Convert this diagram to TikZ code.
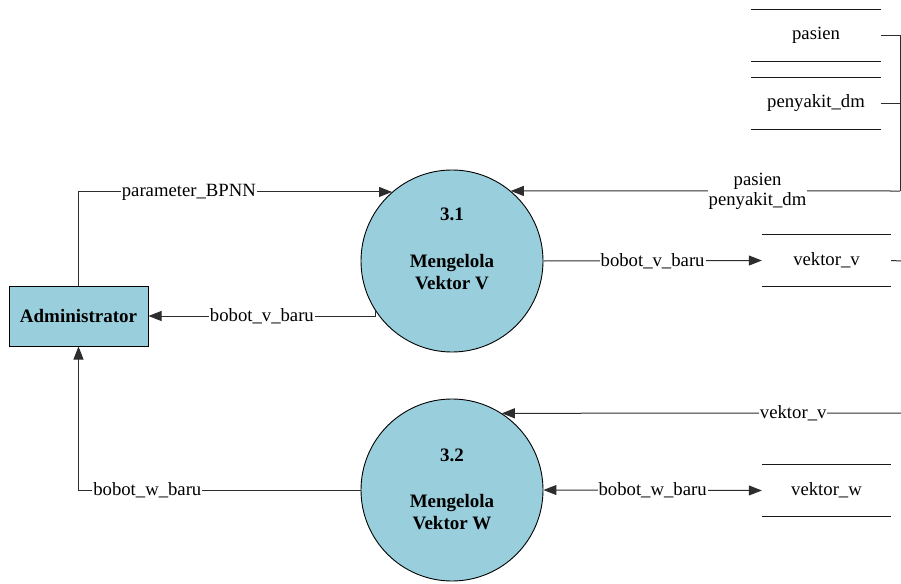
\documentclass[tikz,border=0pt]{standalone}
\usepackage{fontspec}
\IfFontExistsTF{LiberationSerif-Regular.ttf}
  {\setmainfont{LiberationSerif-Regular.ttf}[BoldFont=LiberationSerif-Bold.ttf]}
  {}
\usetikzlibrary{arrows.meta}
\definecolor{procblue}{RGB}{153,207,220}
\definecolor{flowgray}{RGB}{45,45,45}
\begin{document}
\begin{tikzpicture}[x=1pt,y=-1pt,
  flow/.style={draw=flowgray, line width=1pt},
  tip/.style={-{Triangle[length=13pt,width=10pt]}},
  bothtips/.style={{Triangle[length=13pt,width=10pt]}-{Triangle[length=13pt,width=10pt]}},
  lbl/.style={fill=white, inner sep=1pt, font=\rmfamily\fontsize{18.7}{20}\selectfont, align=center},
  proc/.style={circle, draw=black, line width=0.9pt, fill=procblue, minimum size=182pt, inner sep=0pt},
  ptext/.style={font=\rmfamily\bfseries\fontsize{19}{22}\selectfont, align=center},
  ent/.style={draw=black, fill=procblue, line width=1pt, minimum width=139pt,
    minimum height=60pt, inner sep=0pt, font=\rmfamily\bfseries\fontsize{19}{22}\selectfont},
  store/.style={minimum width=129pt, minimum height=51pt, inner sep=0pt,
    font=\rmfamily\fontsize{18.7}{20}\selectfont},
  storeline/.style={draw=black!90, line width=1pt}]
\useasboundingbox (0,0) rectangle (901,583);

% external entity
\node[ent] (admin) at (78.5,316) {Administrator};

% processes
\node[proc] (p31) at (452,261) {};
\node[ptext] (p31num) at (452,214) {3.1};
\node[ptext] (p31name) at (452,272) {Mengelola\\Vektor V};

\node[proc] (p32) at (452,490) {};
\node[ptext] (p32num) at (452,455) {3.2};
\node[ptext] (p32name) at (452,512) {Mengelola\\Vektor W};

% data stores
\node[store] (pasien)   at (816,35.5)  {pasien};
\node[store] (penyakit) at (816,103.5) {penyakit\_dm};
\node[store] (vv)       at (826.5,260.5) {vektor\_v};
\node[store] (vw)       at (826.5,490.5) {vektor\_w};
\foreach \s in {pasien,penyakit,vv,vw}
  \draw[storeline] (\s.north west) -- (\s.north east) (\s.south west) -- (\s.south east);

% connector end points at the right margin
\coordinate (jn)    at (900,191);
\coordinate (vvout) at (901,261);
\coordinate (vvin)  at (901,413);

% data flows
\draw[flow,tip] (admin.north) |- node[lbl,pos=0.676]{parameter\_BPNN} (p31.131.6);
\draw[flow,tip] (p31.213) |- node[lbl,pos=0.75]{bobot\_v\_baru} (admin.east);
\draw[flow,tip] (p31.east) -- node[lbl]{bobot\_v\_baru} (vv.west);

\draw[flow] (pasien.east) -- (pasien.east -| jn) -- (jn);
\draw[flow] (penyakit.east) -- (penyakit.east -| jn);
\draw[flow,tip] (jn) -- node[lbl,pos=0.366]{pasien\\penyakit\_dm} (p31.50.3);

\draw[flow] (vv.east) -- (vvout);
\draw[flow,tip] (vvin) -- node[lbl,pos=0.27]{vektor\_v} (p32.57.8);

\draw[flow,tip] (p32.west) -| node[lbl,pos=0.378]{bobot\_w\_baru} (admin.south);
\draw[flow,bothtips] (p32.east) -- node[lbl]{bobot\_w\_baru} (vw.west);
\end{tikzpicture}
\end{document}
